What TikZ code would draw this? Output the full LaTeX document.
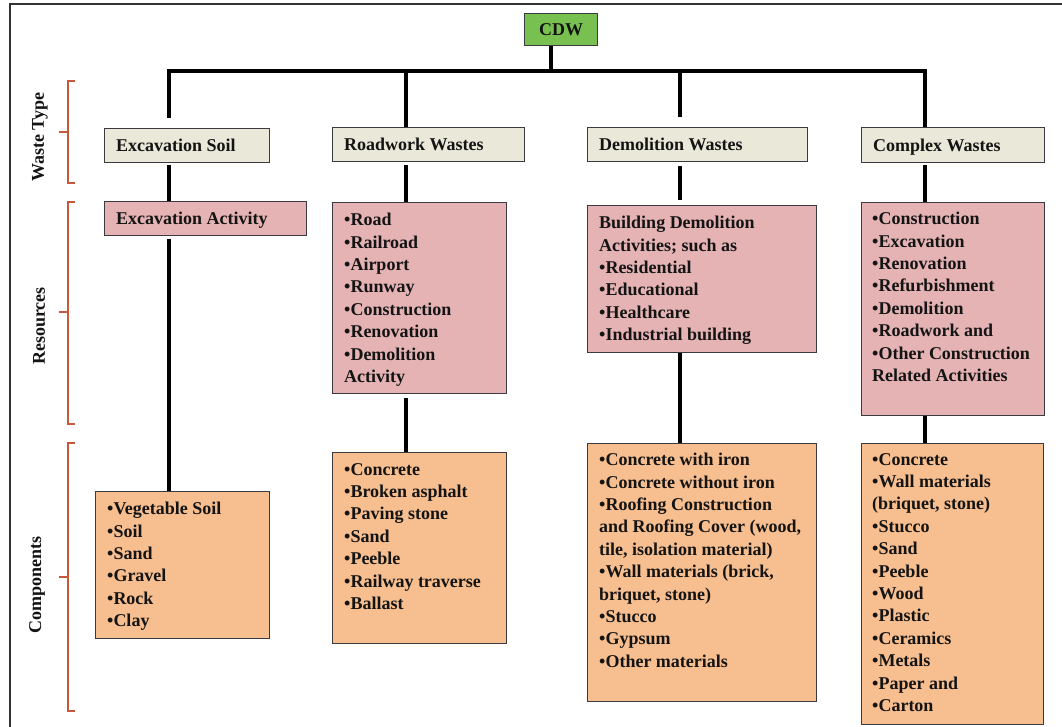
\documentclass[tikz,border=0pt]{standalone}
\usepackage{fontspec}
\setmainfont{Liberation Serif}
\definecolor{cdwgreen}{RGB}{120,192,80}
\definecolor{wtfill}{RGB}{233,232,217}
\definecolor{rsfill}{RGB}{229,179,180}
\definecolor{cpfill}{RGB}{247,190,143}
\definecolor{boxline}{RGB}{58,58,64}
\definecolor{bracecol}{RGB}{200,88,60}
\definecolor{framecol}{RGB}{50,50,50}
\begin{document}
\begin{tikzpicture}[x=1pt,y=-1pt,
  lbl/.style={font=\fontsize{18}{22.4}\selectfont\bfseries, inner sep=0pt, align=left, text=black!92},
  one/.style={font=\fontsize{18}{22.4}\selectfont\bfseries, inner sep=0pt, text=black!92,
              text height=12pt, text depth=0pt, anchor=west},
  bx/.style={draw=boxline, line width=1.4pt, inner sep=0pt, anchor=north west},
  wt/.style={bx, fill=wtfill, minimum height=34pt},
  rs/.style={bx, fill=rsfill},
  cp/.style={bx, fill=cpfill},
  link/.style={line width=4.6pt, black, line join=miter},
  brace/.style={draw=bracecol, line width=1.1pt},
  side/.style={font=\fontsize{18}{22}\selectfont\bfseries, inner sep=0pt, rotate=90, text=black!92},
]
\useasboundingbox[fill=white] (0,0) rectangle (1062,727);

% outer frame
\draw[framecol, line width=2.6pt] (10,727) -- (10,4) -- (1062,4);

% root
\node[bx, fill=cdwgreen, minimum width=73pt, minimum height=32pt] (cdw) at (524,13) {};
\node[one, anchor=center] (cdw-t) at (cdw.center) {CDW};

% waste types
\node[wt, minimum width=165pt] (es) at (104,128) {};
\node[wt, minimum width=192pt] (rw) at (332,127) {};
\node[wt, minimum width=220pt] (dw) at (587,127) {};
\node[wt, minimum width=183pt, minimum height=35pt] (cw) at (861,127) {};
\node[one] (es-t) at ([xshift=12pt]es.west) {Excavation Soil};
\node[one] (rw-t) at ([xshift=12pt]rw.west) {Roadwork Wastes};
\node[one] (dw-t) at ([xshift=12pt]dw.west) {Demolition Wastes};
\node[one] (cw-t) at ([xshift=12pt]cw.west) {Complex Wastes};

% resources
\node[rs, minimum width=202pt, minimum height=34pt] (ea) at (104,201) {};
\node[one] (ea-t) at ([xshift=12pt]ea.west) {Excavation Activity};
\node[rs, minimum width=174pt, minimum height=191pt] (rr) at (332,202) {};
\node[lbl, anchor=north west] (rr-t) at ([shift={(12pt,-11pt)}]rr.north west)
  {•Road\\•Railroad\\•Airport\\•Runway\\•Construction\\•Renovation\\•Demolition\\Activity};
\node[rs, minimum width=229pt, minimum height=147pt] (dr) at (587,205) {};
\node[lbl, anchor=north west] (dr-t) at ([shift={(12pt,-11pt)}]dr.north west)
  {Building Demolition\\Activities; such as\\•Residential\\•Educational\\•Healthcare\\•Industrial building};
\node[rs, minimum width=183pt, minimum height=213pt] (cr) at (861,202) {};
\node[lbl, anchor=north west] (cr-t) at ([shift={(11pt,-10pt)}]cr.north west)
  {•Construction\\•Excavation\\•Renovation\\•Refurbishment\\•Demolition\\•Roadwork and\\•Other Construction\\Related Activities};

% components
\node[cp, minimum width=174pt, minimum height=147pt] (ec) at (95,491) {};
\node[lbl, anchor=north west] (ec-t) at ([shift={(12pt,-11pt)}]ec.north west)
  {•Vegetable Soil\\•Soil\\•Sand\\•Gravel\\•Rock\\•Clay};
\node[cp, minimum width=174pt, minimum height=191pt] (rc) at (332,452) {};
\node[lbl, anchor=north west] (rc-t) at ([shift={(12pt,-11pt)}]rc.north west)
  {•Concrete\\•Broken asphalt\\•Paving stone\\•Sand\\•Peeble\\•Railway traverse\\•Ballast};
\node[cp, minimum width=229pt, minimum height=258pt] (dc) at (587,443) {};
\node[lbl, anchor=north west] (dc-t) at ([shift={(12pt,-10pt)}]dc.north west)
  {•Concrete with iron\\•Concrete without iron\\•Roofing Construction\\and Roofing Cover (wood,\\tile, isolation material)\\•Wall materials (brick,\\briquet, stone)\\•Stucco\\•Gypsum\\•Other materials};
\node[cp, minimum width=182pt, minimum height=281pt] (cc) at (861,443) {};
\node[lbl, anchor=north west] (cc-t) at ([shift={(11pt,-10pt)}]cc.north west)
  {•Concrete\\•Wall materials\\(briquet, stone)\\•Stucco\\•Sand\\•Peeble\\•Wood\\•Plastic\\•Ceramics\\•Metals\\•Paper and\\•Carton};

% trunk and branch points
\coordinate (barL) at (169,71);
\coordinate (barB) at (406,71);
\coordinate (barC) at (680,71);
\coordinate (barR) at (925,71);
\coordinate (cdwfoot) at (551,71);

% connectors
\draw[link] (cdw.south -| cdwfoot) -- (cdwfoot);
\draw[link] ([yshift=10pt]es.north -| barL) -- (barL) -- (barR) -- (cw.north -| barR);
\draw[link] (barB) -- (rw.north -| barB);
\draw[link] (barC) -- ([yshift=10pt]dw.north -| barC);

\draw[link] ([yshift=-2pt]es.south -| barL) -- (ea.north -| barL);
\draw[link] ([yshift=-3pt]rw.south -| barB) -- (rr.north -| barB);
\draw[link] ([yshift=-4pt]dw.south -| barC) -- ([yshift=5pt]dr.north -| barC);
\draw[link] ([yshift=-2pt]cw.south -| barR) -- (cr.north -| barR);

\draw[link] ([yshift=-3pt]ea.south -| barL) -- (ec.north -| barL);
\draw[link] ([yshift=-4pt]rr.south -| barB) -- (rc.north -| barB);
\draw[link] (dr.south -| barC) -- (dc.north -| barC);
\draw[link] (cr.south -| barR) -- (cc.north -| barR);

% level braces and their captions
\draw[brace] (75,81) -| (68,183) -- (75,183) (68,132) -- (59,132);
\draw[brace] (75,202) -| (68,424) -- (75,424) (68,312) -- (59,312);
\draw[brace] (75,443) -| (68,711) -- (75,711) (68,577) -- (59,577);
\node[side] (lwt) at (40,137) {Waste Type};
\node[side] (lrs) at (39,326) {Resources};
\node[side] (lcp) at (37,585) {Components};
\end{tikzpicture}
\end{document}
